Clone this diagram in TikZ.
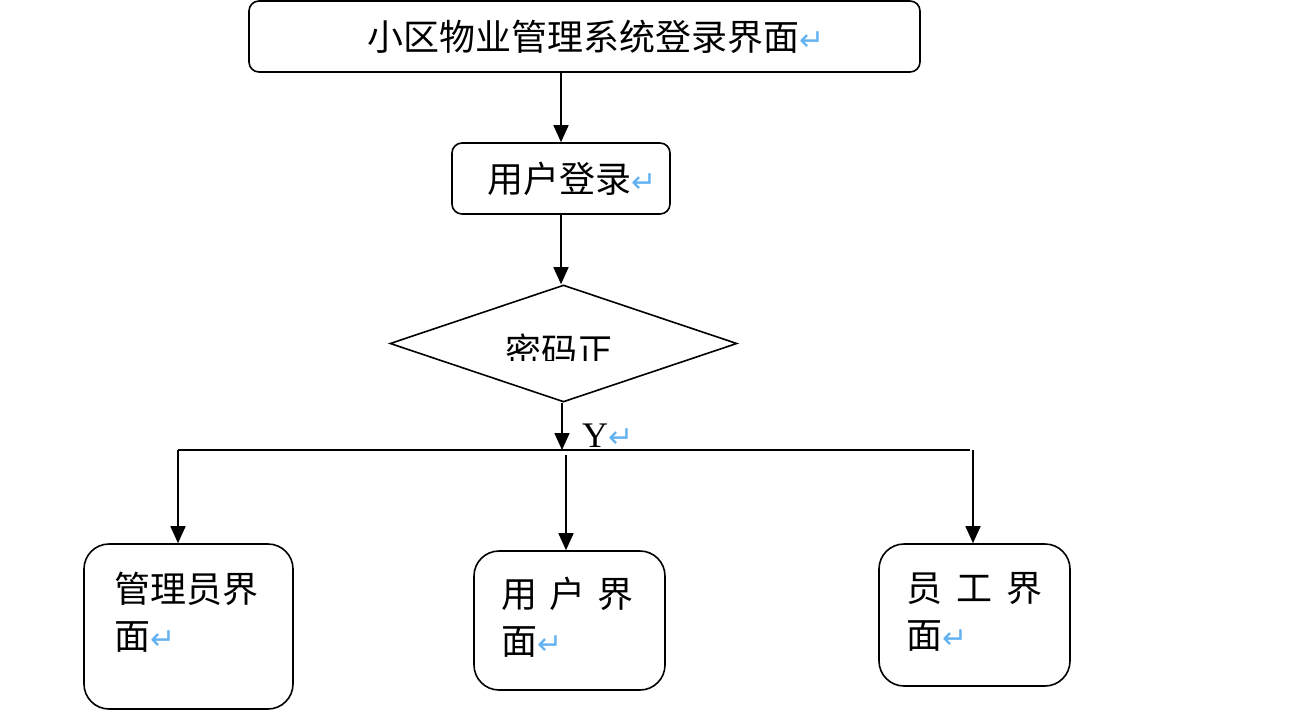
\documentclass[tikz,border=0pt]{standalone}
\usepackage{fontspec}
\setmainfont{Liberation Serif}
\newfontfamily\cjk{Noto Sans CJK SC}
\newfontfamily\symfont{DejaVu Sans}
\usetikzlibrary{arrows.meta,shapes.geometric}
\definecolor{pmblue}{HTML}{62B2F2}
\newcommand\pmark{{\symfont\fontsize{30}{30}\selectfont\textcolor{pmblue}{↵}}}
\begin{document}
\begin{tikzpicture}[x=1pt,y=-1pt,
  box/.style={draw,line width=1.6pt,rounded corners=10pt,inner sep=0pt,font=\cjk\fontsize{36}{36}\selectfont},
  bigbox/.style={draw,line width=1.6pt,rounded corners=25pt,inner sep=0pt},
  arr/.style={line width=1.6pt,-{Triangle[length=17pt,width=15pt]}},
  line/.style={line width=1.6pt},
  txt/.style={font=\cjk\fontsize{36}{47}\selectfont,inner sep=0pt}]
\useasboundingbox (0,0) rectangle (1296,728);

\node[box,minimum width=671pt,minimum height=71pt] (top) at (584.5,36.5) {\hspace{23pt}小区物业管理系统登录界面\pmark};
\node[box,minimum width=218pt,minimum height=71pt] (login) at (561,178.5) {\hspace{23pt}用户登录\pmark};
\node[draw,line width=1.6pt,diamond,inner sep=0pt,minimum width=347pt,minimum height=117pt] (dia) at (563.5,343.5) {};
\begin{scope}
  \clip (380,300) rectangle (760,360);
  \node[txt] (q) at (559,351) {密码正};
\end{scope}

\node[bigbox,minimum width=209pt,minimum height=165pt] (admin) at (188.5,626.5) {};
\node[bigbox,minimum width=191pt,minimum height=139pt] (user) at (569.5,620.5) {};
\node[bigbox,minimum width=191pt,minimum height=142pt] (staff) at (974.5,615) {};

\node[txt,anchor=west,align=left] (admint) at (114,612) {管理员界\\面\pmark};
\node[txt,anchor=west,align=left] (usert) at (501,617) {用\hspace{12pt}户\hspace{12pt}界\\面\pmark};
\node[txt,anchor=west,align=left] (stafft) at (906,612) {员\hspace{14pt}工\hspace{14pt}界\\面\pmark};

\coordinate (bus) at (562,450);
\coordinate (busL) at (178,450);
\coordinate (busR) at (970,450);
\coordinate (busM) at (566,455);
\coordinate (busR2) at (973,450);

\draw[arr] (login.north |- top.south) -- (login.north);
\draw[arr] (login.south) -- (login.south |- dia.north);
\draw[arr] (dia.south -| bus) -- (bus);
\node[font=\fontsize{36}{36}\selectfont,anchor=west,inner sep=0pt] (ylab) at (582,436) {Y\pmark};
\draw[line] (busL) -- (busR);
\draw[arr] (busL) -- (busL |- admin.north);
\draw[arr] (busM) -- (busM |- user.north);
\draw[arr] (busR2) -- (busR2 |- staff.north);
\end{tikzpicture}
\end{document}
